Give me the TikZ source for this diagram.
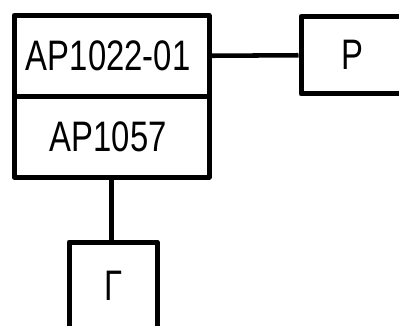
\documentclass[tikz,border=0pt]{standalone}
\usepackage{fontspec}
\setmainfont{Liberation Sans}
\begin{document}
\begin{tikzpicture}[x=0.75pt,y=-0.75pt,
  boxst/.style={draw=black,line width=3.75pt,line join=round,inner sep=0pt,rectangle},
  wire/.style={draw=black,line width=3.4pt},
  lbl/.style={font=\fontsize{32}{32}\selectfont}]
\useasboundingbox (0,0) rectangle (399,325);
\clip (0,0) rectangle (399,325);
\node[boxst,minimum width=146.25pt,minimum height=60.4pt] (a) at (111.5,55.75) {};
\node[boxst,minimum width=146.25pt,minimum height=60.75pt] (b) at (111.5,136.5) {};
\node[boxst,minimum width=76.5pt,minimum height=58.1pt] (p) at (352,55.25) {};
\node[boxst,minimum width=66pt,minimum height=66pt] (g) at (113,286) {};
\node[lbl] (ta) at ([xshift=-2.5pt]a.center) {\scalebox{0.77}[1]{АР1022-01}};
\node[lbl] (tb) at ([xshift=-2.5pt]b.center) {\scalebox{0.77}[1]{АР1057}};
\node[lbl] (tp) at (p.center) {\scalebox{0.77}[1]{Р}};
\node[lbl] (tg) at (g.center) {\scalebox{0.77}[1]{Г}};
\draw[wire] (a.east) -- (p.west);
\draw[wire] (b.south) -- (b.south |- g.north);
\end{tikzpicture}
\end{document}
